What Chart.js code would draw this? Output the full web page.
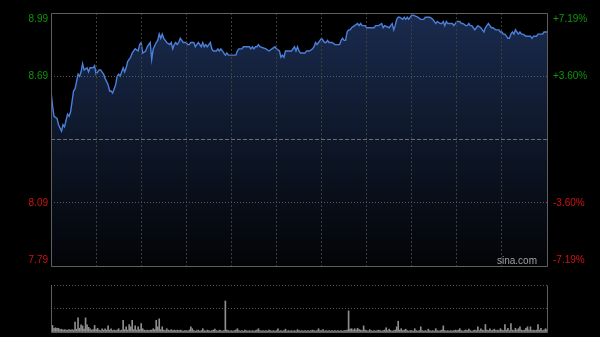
<!DOCTYPE html>
<html><head><meta charset="utf-8">
<script src="https://cdn.jsdelivr.net/npm/chart.js@4/dist/chart.umd.min.js"></script>
<style>
html,body{margin:0;padding:0;background:#000;}
#wrap{position:relative;width:600px;height:337px;overflow:hidden;background:#000;}
#pc{position:absolute;left:0;top:0;}
#vc{position:absolute;left:0;top:275px;}
</style></head><body>
<div id="wrap"><canvas id="pc" width="600" height="275"></canvas><canvas id="vc" width="600" height="62"></canvas></div>
<script>
// ---- data ----
const prevClose = 8.39;
const priceMin = 7.79, priceMax = 8.99;
const tickValues  = [8.99, 8.69, 8.39, 8.09, 7.79];
const leftLabels  = ['8.99', '8.69', '', '8.09', '7.79'];
const rightLabels = ['+7.19%', '+3.60%', '', '-3.60%', '-7.19%'];
const sessionMinutes = 330;   // 09:30-12:00, 13:00-16:00
const gridStep = 30;
const watermark = 'sina.com';

const minutes = [0,1,2,4,5,7,8,9,11,12,13,14,15,16,18,19,20,21,22,24,25,26,28,29,30,32,33,34,35,36,38,39,40,41,42,43,44,45,46,48,49,50,51,52,53,54,55,56,58,59,60,61,63,64,66,67,68,70,71,72,73,74,75,76,77,79,80,81,82,83,84,85,86,87,88,90,91,92,93,94,95,96,97,98,100,101,102,103,104,105,106,107,108,110,111,112,113,114,115,116,117,118,120,121,122,123,124,125,126,127,128,129,132,133,134,135,136,137,138,139,143,145,147,149,150,152,153,154,155,156,158,160,162,163,164,165,166,167,169,170,172,174,175,176,177,178,179,180,182,183,184,185,187,189,192,193,194,195,196,197,198,199,200,202,204,205,206,207,208,209,210,212,215,216,218,220,221,222,225,226,227,228,229,230,231,232,234,235,236,237,238,239,240,241,244,246,248,249,250,252,254,255,256,257,259,260,261,262,263,264,266,267,268,269,270,271,272,273,274,276,277,278,279,280,281,282,283,284,286,287,288,289,290,291,292,293,294,296,297,298,299,300,301,302,303,304,305,306,307,308,309,310,311,312,313,314,316,317,318,319,320,321,322,323,324,326,327,328,329,330];
const prices = [8.62,8.55,8.50,8.49,8.46,8.43,8.46,8.45,8.51,8.50,8.52,8.57,8.62,8.63,8.70,8.69,8.71,8.75,8.72,8.73,8.71,8.73,8.73,8.74,8.70,8.72,8.72,8.71,8.70,8.68,8.65,8.62,8.62,8.61,8.63,8.65,8.69,8.70,8.69,8.73,8.71,8.73,8.76,8.77,8.78,8.80,8.81,8.82,8.81,8.84,8.85,8.80,8.81,8.83,8.85,8.77,8.82,8.85,8.86,8.89,8.87,8.89,8.87,8.86,8.85,8.84,8.85,8.82,8.84,8.85,8.84,8.85,8.87,8.86,8.85,8.85,8.84,8.84,8.85,8.85,8.85,8.83,8.84,8.85,8.83,8.85,8.83,8.84,8.83,8.84,8.85,8.82,8.81,8.81,8.82,8.81,8.82,8.81,8.80,8.79,8.80,8.79,8.79,8.79,8.79,8.79,8.81,8.82,8.82,8.82,8.83,8.83,8.83,8.82,8.83,8.82,8.83,8.83,8.84,8.83,8.82,8.81,8.82,8.83,8.82,8.81,8.78,8.79,8.78,8.81,8.81,8.81,8.83,8.81,8.83,8.81,8.80,8.80,8.80,8.81,8.81,8.82,8.83,8.85,8.84,8.85,8.86,8.87,8.85,8.85,8.86,8.85,8.85,8.84,8.84,8.86,8.87,8.86,8.86,8.90,8.91,8.91,8.92,8.93,8.94,8.93,8.94,8.93,8.93,8.93,8.92,8.92,8.92,8.93,8.93,8.94,8.92,8.93,8.92,8.93,8.94,8.91,8.93,8.96,8.97,8.97,8.96,8.97,8.96,8.97,8.96,8.97,8.98,8.98,8.97,8.96,8.96,8.97,8.97,8.97,8.96,8.95,8.94,8.95,8.94,8.94,8.95,8.93,8.95,8.94,8.94,8.94,8.93,8.94,8.95,8.95,8.95,8.94,8.94,8.93,8.93,8.94,8.93,8.93,8.92,8.91,8.92,8.93,8.92,8.91,8.90,8.92,8.93,8.94,8.93,8.92,8.92,8.91,8.91,8.91,8.90,8.90,8.89,8.89,8.88,8.87,8.87,8.89,8.90,8.89,8.91,8.90,8.89,8.90,8.89,8.89,8.88,8.88,8.88,8.88,8.87,8.88,8.88,8.88,8.89,8.89,8.89,8.90,8.90,8.90];

// volume per minute (0..330), one row per 30-minute block
const volumeMax = 100;
const volumes = [
  16,14,8,9,8,8,5,6,4,5,4,4,5,4,5,4,21,6,30,8,15,13,6,30,15,10,7,4,5,14,
  5,8,4,3,7,4,7,4,13,4,7,3,4,3,4,7,3,4,25,5,11,4,16,11,25,5,13,4,11,5,
  18,7,4,3,4,3,4,4,7,5,25,11,28,5,11,4,3,7,4,3,5,3,4,3,4,3,4,3,2,3,
  3,2,4,11,7,3,2,3,4,2,3,7,3,2,4,3,2,3,4,6,3,2,4,3,2,3,66,4,3,2,
  3,2,3,4,7,3,2,3,2,4,3,2,3,2,3,2,3,4,7,3,2,3,2,3,2,4,3,2,3,2,
  3,7,2,3,2,3,6,2,3,2,3,2,3,2,5,3,2,3,2,3,2,3,2,3,4,3,2,3,7,3,
  3,5,2,3,2,3,2,3,2,3,2,3,2,3,2,3,3,4,45,6,7,4,7,4,8,5,4,3,13,4,
  3,2,5,3,2,3,2,3,4,3,2,3,4,9,3,6,3,2,3,4,11,23,4,7,3,4,6,3,2,3,
  3,2,7,3,2,3,11,3,2,3,2,6,3,2,3,2,7,3,2,3,4,13,3,2,3,2,3,2,3,4,
  3,4,7,3,2,3,4,3,6,3,2,3,4,3,11,3,7,4,3,16,4,3,7,3,4,6,3,4,3,7,
  4,3,16,4,8,3,18,4,3,8,4,7,11,4,3,4,8,11,4,11,3,4,3,4,16,4,8,3,4,7,5
];

// ---- styling ----
const FONT = '10px "Liberation Sans", Arial, sans-serif';
const UP = '#0f960f', DOWN = '#d01212';
const FRAME = '#5e5e5e';

const pricePoints = minutes.map((m, i) => ({x: m, y: prices[i]}));
const volPoints = volumes.map((v, i) => ({x: i, y: v}));

const framePlugin = {
  id: 'frame',
  afterDraw(chart, args, opts) {
    const {ctx, chartArea: a} = chart;
    ctx.save();
    ctx.strokeStyle = FRAME; ctx.lineWidth = 1;
    ctx.beginPath();
    const L = Math.round(a.left) + 0.5, R = Math.round(a.right) + 0.5;
    const T = Math.round(a.top) + 0.5, B = Math.round(a.bottom) + 0.5;
    if (opts.top) { ctx.moveTo(L, T); ctx.lineTo(R, T); }
    ctx.moveTo(L, T); ctx.lineTo(L, B);
    ctx.moveTo(R, T); ctx.lineTo(R, B);
    ctx.moveTo(L, B); ctx.lineTo(R, B);
    ctx.stroke();
    ctx.restore();
  }
};

const labelPlugin = {
  id: 'sideLabels',
  afterDraw(chart) {
    const {ctx, chartArea: a} = chart;
    const ys = chart.scales.y;
    ctx.save();
    ctx.font = FONT;
    ctx.textBaseline = 'middle';
    tickValues.forEach((v, i) => {
      let y = ys.getPixelForValue(v);
      if (v === priceMax) y += 6;
      if (v === priceMin) y -= 6;
      ctx.fillStyle = v >= prevClose ? UP : DOWN;
      ctx.textAlign = 'right';
      ctx.fillText(leftLabels[i], a.left - 3, y);
      ctx.textAlign = 'left';
      ctx.fillText(rightLabels[i], a.right + 6, y);
    });
    ctx.fillStyle = '#a0a0a0';
    ctx.textAlign = 'right';
    ctx.fillText(watermark, a.right - 10, a.bottom - 5);
    ctx.restore();
  }
};

new Chart(document.getElementById('pc'), {
  type: 'line',
  data: { datasets: [{
    data: pricePoints,
    borderColor: '#4b80da',
    borderWidth: 1.4,
    pointRadius: 0,
    tension: 0,
    fill: 'start',
    backgroundColor: (c) => {
      const ch = c.chart, a = ch.chartArea;
      if (!a) return '#14223d';
      const g = ch.ctx.createLinearGradient(0, a.top, 0, a.bottom);
      g.addColorStop(0, '#1a2b4f');
      g.addColorStop(0.5, '#0e1729');
      g.addColorStop(1, '#030407');
      return g;
    }
  }]},
  options: {
    responsive: false, animation: false,
    layout: { padding: { left: 0, right: 53, top: 13, bottom: 9 } },
    plugins: { legend: {display: false}, tooltip: {enabled: false}, frame: {top: true} },
    scales: {
      x: {
        type: 'linear', min: 0, max: sessionMinutes,
        ticks: { display: false, stepSize: gridStep },
        grid: { z: 1, drawTicks: false, lineWidth: 1,
          color: (c) => (c.tick.value <= 0 || c.tick.value >= sessionMinutes) ? 'rgba(0,0,0,0)' : '#3d3d3d' },
        border: { display: false, dash: [2, 2] },
        afterFit: (s) => { s.height = 0; }
      },
      y: {
        type: 'linear', min: priceMin, max: priceMax,
        afterBuildTicks: (s) => { s.ticks = tickValues.map(v => ({value: v})); },
        ticks: { display: false },
        grid: { z: 1, drawTicks: false,
          color: (c) => (c.tick.value === priceMin || c.tick.value === priceMax) ? 'rgba(0,0,0,0)' :
                        (c.tick.value === prevClose ? '#6e6e6e' : '#5a5a5a') },
        border: { display: false, dash: (c) => (c.tick && c.tick.value === prevClose) ? [4, 2] : [1, 2] },
        afterFit: (s) => { s.width = 51; }
      }
    }
  },
  plugins: [framePlugin, labelPlugin]
});

new Chart(document.getElementById('vc'), {
  type: 'bar',
  data: { datasets: [{
    data: volPoints,
    backgroundColor: '#8e8e8e',
    barThickness: 1,
    borderWidth: 0
  }]},
  options: {
    responsive: false, animation: false,
    layout: { padding: { left: 0, right: 53, top: 10, bottom: 5 } },
    plugins: { legend: {display: false}, tooltip: {enabled: false}, frame: {top: false} },
    scales: {
      x: {
        type: 'linear', min: 0, max: sessionMinutes, offset: false,
        ticks: { display: false }, grid: { display: false }, border: { display: false },
        afterFit: (s) => { s.height = 0; }
      },
      y: {
        type: 'linear', min: 0, max: volumeMax,
        afterBuildTicks: (s) => { s.ticks = [0, volumeMax / 2, volumeMax].map(v => ({value: v})); },
        ticks: { display: false },
        grid: { drawTicks: false, color: (c) => c.tick.value === 0 ? 'rgba(0,0,0,0)' : '#5a5a5a' },
        border: { display: false, dash: [1, 2] },
        afterFit: (s) => { s.width = 51; }
      }
    }
  },
  plugins: [framePlugin]
});
</script>
</body></html>
